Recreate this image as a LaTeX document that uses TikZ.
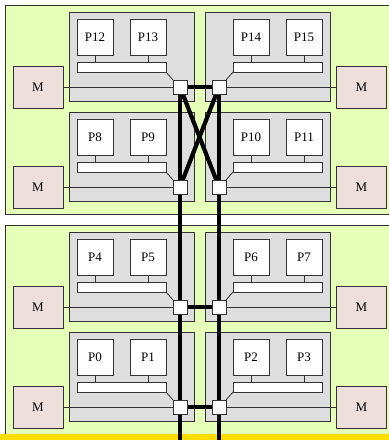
\documentclass[tikz,border=0pt]{standalone}
\usepackage{fontspec}
\setmainfont{Liberation Serif}
\definecolor{panelgreen}{HTML}{E6FFB8}
\definecolor{boxgray}{HTML}{DEDEDE}
\definecolor{mempink}{HTML}{EEDFDD}
\definecolor{linegray}{HTML}{333333}
\definecolor{bandyellow}{HTML}{FFDD00}
\begin{document}
\begin{tikzpicture}[x=1pt,y=-1pt,
  panel/.style={draw=linegray, fill=panelgreen, line width=0.8pt},
  board/.style={draw=linegray, fill=boxgray, line width=0.8pt, anchor=north west, inner sep=0pt, outer sep=0pt, minimum width=125pt, minimum height=89pt},
  proc/.style={draw=linegray, fill=white, line width=0.8pt, anchor=north west, inner sep=0pt, outer sep=0pt, minimum width=36pt, minimum height=36pt, font=\fontsize{13}{15}\selectfont},
  busbar/.style={draw=linegray, fill=white, line width=0.8pt, anchor=north west, inner sep=0pt, outer sep=0pt, minimum width=89pt, minimum height=10pt},
  mem/.style={draw=linegray, fill=mempink, line width=0.8pt, inner sep=0pt, outer sep=0pt, minimum width=50pt, minimum height=42pt, font=\fontsize{13}{15}\selectfont},
  switchbox/.style={draw=linegray, fill=white, line width=0.8pt, inner sep=0pt, outer sep=0pt, minimum size=14pt},
  thin/.style={draw=linegray, line width=0.8pt},
  link/.style={draw=black, line width=4.2pt}]
\clip (0,0) rectangle (389,440);
\fill[white] (0,0) rectangle (389,440);
% panels
\draw[panel] (5,5) rectangle (400,214);
\draw[panel] (5,225) rectangle (400,434);
\fill[bandyellow] (0,434.4) rectangle (389,441);
% boards, processors, buses, memories
\foreach \r/\gy/\la/\lb/\lc/\ld in {a/12/12/13/14/15, b/112/8/9/10/11, c/232/4/5/6/7, d/332/0/1/2/3}{
  \node[board] (g\r L) at (69,\gy) {};
  \node[board] (g\r R) at (205,\gy) {};
  \node[proc] (p\la) at (77,\gy+7) {P\la};
  \node[proc] (p\lb) at (130,\gy+7) {P\lb};
  \node[proc] (p\lc) at (233,\gy+7) {P\lc};
  \node[proc] (p\ld) at (286,\gy+7) {P\ld};
  \node[busbar] (b\r L) at (77,\gy+50) {};
  \node[busbar] (b\r R) at (233,\gy+50) {};
  \draw[thin] (p\la.south) -- (p\la.south |- b\r L.north);
  \draw[thin] (p\lb.south) -- (p\lb.south |- b\r L.north);
  \draw[thin] (p\lc.south) -- (p\lc.south |- b\r R.north);
  \draw[thin] (p\ld.south) -- (p\ld.south |- b\r R.north);
  \node[mem] (m\r L) at (38,\gy+75) {M};
  \node[mem] (m\r R) at (361.5,\gy+75) {M};
  \coordinate (c\r L) at (180,\gy+75);
  \coordinate (c\r R) at (219,\gy+75);
}
\coordinate (endL) at (180,441);
\coordinate (endR) at (219,441);
% interconnect
\draw[link] (caL) -- (endL);
\draw[link] (caR) -- (endR);
\draw[link] (caL) -- (caR);
\draw[link] (ccL) -- (ccR);
\draw[link] (cdL) -- (cdR);
\draw[link] (caL) -- (cbR);
\draw[link] (caR) -- (cbL);
% switches
\foreach \r in {a,b,c,d}{
  \node[switchbox] (s\r L) at (c\r L) {};
  \node[switchbox] (s\r R) at (c\r R) {};
  \draw[thin] (b\r L.south east) -- (s\r L.north west);
  \draw[thin] (b\r R.south west) -- (s\r R.north east);
  \draw[thin] (m\r L.east) -- (s\r L.west);
  \draw[thin] (m\r R.west) -- (s\r R.east);
}
\end{tikzpicture}
\end{document}
